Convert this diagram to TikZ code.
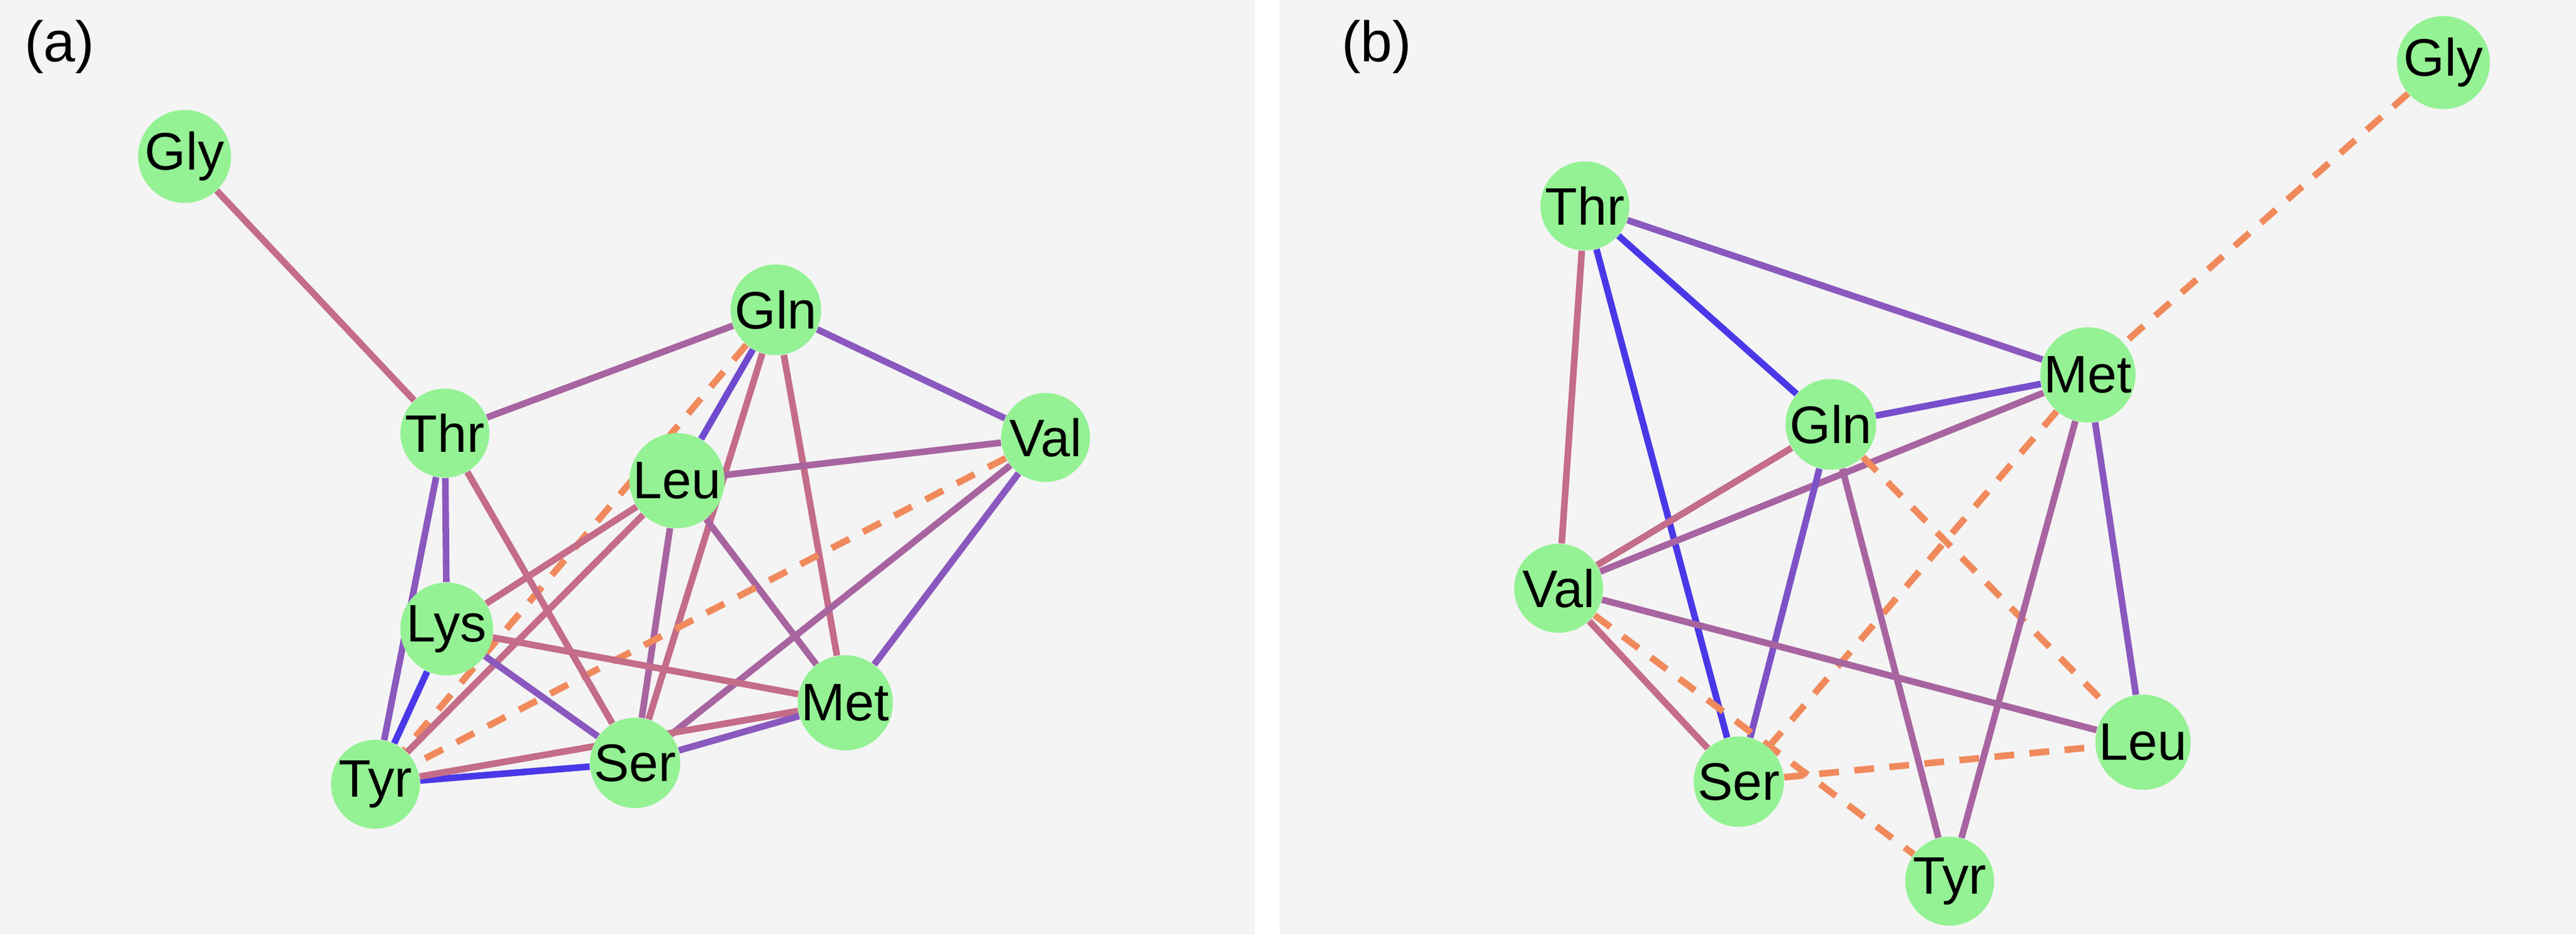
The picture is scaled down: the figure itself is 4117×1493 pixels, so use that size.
\documentclass[tikz,border=0pt]{standalone}
\usepackage{fontspec}
\setmainfont{Liberation Sans}
\pgfdeclarelayer{edges}
\pgfsetlayers{edges,main}
\begin{document}
\begin{tikzpicture}[x=0.01cm,y=-0.01cm,
  aa/.style={circle,fill=nodegreen,minimum size=1.42cm,inner sep=0pt,font=\fontsize{24}{28}\selectfont},
  e/.style={line width=3pt},
  mv/.style={e,draw=mauve},
  mp/.style={e,draw=mpurple},
  pu/.style={e,draw=purp},
  bl/.style={e,draw=blu},
  da/.style={e,draw=orng,dash pattern=on 9pt off 7pt}]
\definecolor{nodegreen}{HTML}{94F294}
\definecolor{mauve}{HTML}{C46C88}
\definecolor{mpurple}{HTML}{A864A0}
\definecolor{purp}{HTML}{8A58BE}
\definecolor{blu}{HTML}{4A38E8}
\definecolor{orng}{HTML}{F08A5C}
\definecolor{bg}{HTML}{F4F4F4}
\useasboundingbox (0,0) rectangle (4117,1493);
\node[font=\fontsize{26}{30}\selectfont] (la) at (95,75) {(a)};
\node[font=\fontsize{26}{30}\selectfont] (lb) at (2200,75) {(b)};
% panel a
\node[aa] (aGly) at (295,250) {Gly};
\node[aa] (aThr) at (711,692) {Thr};
\node[aa] (aGln) at (1240,495) {Gln};
\node[aa] (aVal) at (1671,699) {Val};
\node[aa] (aLeu) at (1082,768) {Leu};
\node[aa] (aLys) at (714,1005) {Lys};
\node[aa] (aMet) at (1351,1123) {Met};
\node[aa] (aSer) at (1015,1219) {Ser};
\node[aa] (aTyr) at (600,1253) {Tyr};
% panel b
\node[aa] (bGly) at (3905,100) {Gly};
\node[aa] (bThr) at (2533,329) {Thr};
\node[aa] (bMet) at (3337,599) {Met};
\node[aa] (bGln) at (2926,678) {Gln};
\node[aa] (bVal) at (2491,940) {Val};
\node[aa] (bSer) at (2779,1249) {Ser};
\node[aa] (bLeu) at (3425,1186) {Leu};
\node[aa] (bTyr) at (3116,1408) {Tyr};
\begin{pgfonlayer}{edges}
\fill[white] (0,0) rectangle (4117,1493);
\fill[bg] (0,0) rectangle (2005,1493);
\fill[bg] (2045,0) rectangle (4117,1493);
% edges a
\draw[mv] (aGly) -- (aThr);
\draw[mp] (aThr) -- (aGln);
\draw[pu] (aGln) -- (aVal);
\draw[e,draw=purp!60!blu] (aGln) -- (aLeu);
\draw[mv] (aGln) -- (aMet);
\draw[mv] (aGln) -- (aSer);
\draw[da] (aGln) -- (aTyr);
\draw[mp] (aLeu) -- (aVal);
\draw[mv] (aLeu) -- (aLys);
\draw[mv] (aLeu) -- (aTyr);
\draw[mp] (aLeu) -- (aSer);
\draw[mp] (aLeu) -- (aMet);
\draw[da] (aVal) -- (aTyr);
\draw[mp] (aVal) -- (aSer);
\draw[pu] (aVal) -- (aMet);
\draw[pu] (aThr) -- (aLys);
\draw[pu] (aThr) -- (aTyr);
\draw[mv] (aThr) -- (aSer);
\draw[bl] (aLys) -- (aTyr);
\draw[mv] (aLys) -- (aMet);
\draw[pu] (aLys) -- (aSer);
\draw[bl] (aTyr) -- (aSer);
\draw[mv] (aTyr) -- (aMet);
\draw[pu] (aSer) -- (aMet);
% edges b
\draw[da] (bGly) -- (bMet);
\draw[da] (bMet) -- (bSer);
\draw[pu] (bThr) -- (bMet);
\draw[bl] (bThr) -- (bGln);
\draw[bl] (bThr) -- (bSer);
\draw[mv] (bThr) -- (bVal);
\draw[e,draw=purp!70!blu] (bGln) -- (bMet);
\draw[mp] (bMet) -- (bVal);
\draw[mv] (bGln) -- (bVal);
\draw[e,draw=purp!80!blu] (bGln) -- (bSer);
\draw[mp] (bGln) -- (bTyr);
\draw[da] (bGln) -- (bLeu);
\draw[mp] (bMet) -- (bTyr);
\draw[pu] (bMet) -- (bLeu);
\draw[mp] (bVal) -- (bLeu);
\draw[mv] (bVal) -- (bSer);
\draw[da] (bVal) -- (bTyr);
\draw[da] (bSer) -- (bLeu);
\end{pgfonlayer}
\end{tikzpicture}
\end{document}
